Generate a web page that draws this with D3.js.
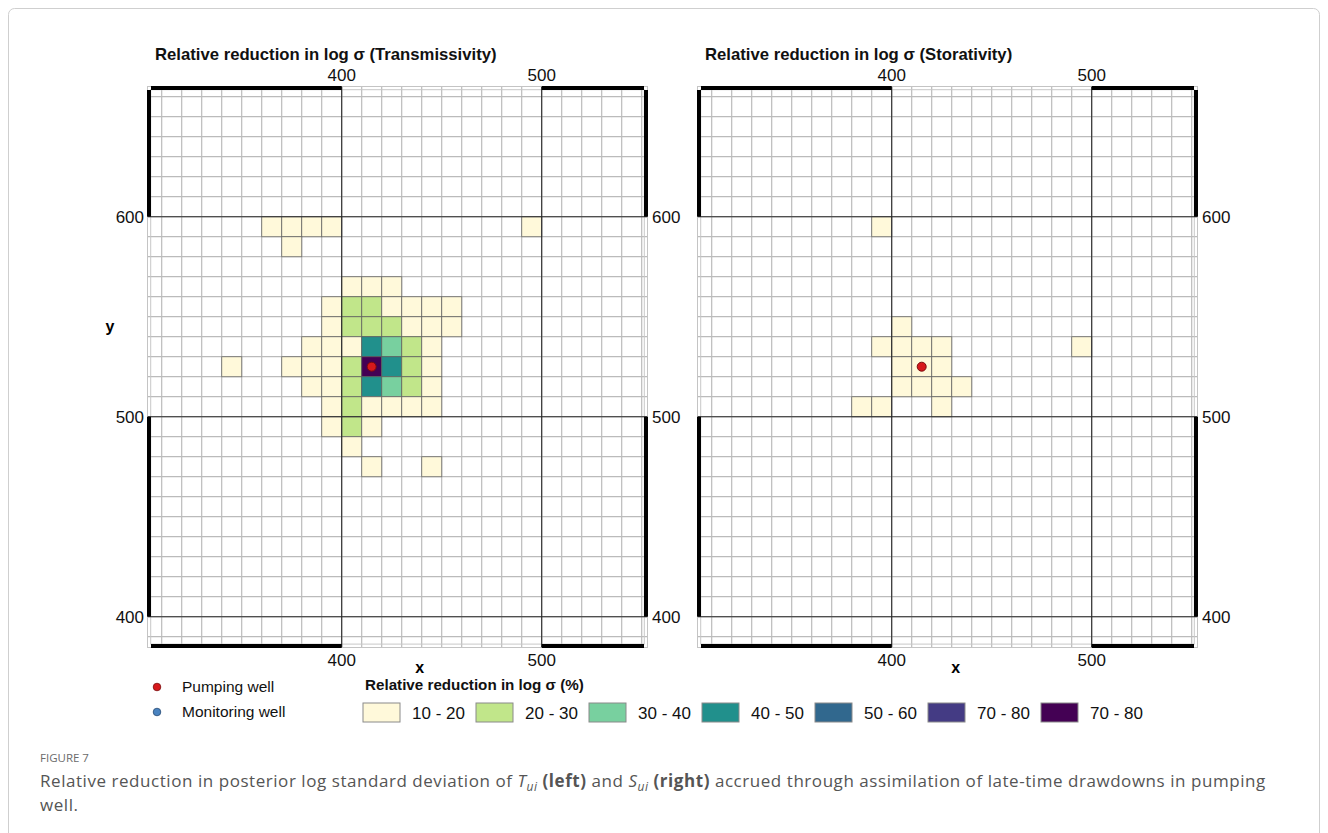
<!DOCTYPE html>
<html>
<head>
<meta charset="utf-8">
<script src="https://cdn.jsdelivr.net/npm/d3@7"></script>
<style>
  html, body { margin: 0; padding: 0; background: #fff; }
  svg { display: block; }
</style>
</head>
<body>
<svg id="fig" width="1328" height="833"></svg>
<script>
// ---- data ----------------------------------------------------------------
// reduction classes (legend order) and their fills
const classLabels = ["10 - 20", "20 - 30", "30 - 40", "40 - 50", "50 - 60", "70 - 80", "70 - 80"];
const classColors = ["#fff9da", "#c1e68a", "#78d09f", "#21908c", "#31688e", "#443b84", "#440154"];

// grid cells: [x of lower-left corner, y of lower-left corner, class index]
const transmissivityCells = [
  [360, 590, 0], [370, 590, 0], [380, 590, 0], [390, 590, 0], [490, 590, 0],
  [370, 580, 0],
  [400, 560, 0], [410, 560, 0], [420, 560, 0],
  [390, 550, 0], [400, 550, 1], [410, 550, 1], [420, 550, 0], [430, 550, 0], [440, 550, 0], [450, 550, 0],
  [390, 540, 0], [400, 540, 1], [410, 540, 1], [420, 540, 1], [430, 540, 0], [440, 540, 0], [450, 540, 0],
  [380, 530, 0], [390, 530, 0], [400, 530, 0], [410, 530, 3], [420, 530, 2], [430, 530, 1], [440, 530, 0],
  [340, 520, 0], [370, 520, 0], [380, 520, 0], [390, 520, 0], [400, 520, 1], [410, 520, 6], [420, 520, 3], [430, 520, 1], [440, 520, 0],
  [380, 510, 0], [390, 510, 0], [400, 510, 1], [410, 510, 3], [420, 510, 2], [430, 510, 1], [440, 510, 0],
  [390, 500, 0], [400, 500, 1], [410, 500, 0], [420, 500, 0], [430, 500, 0], [440, 500, 0],
  [390, 490, 0], [400, 490, 1], [410, 490, 0],
  [400, 480, 0],
  [410, 470, 0], [440, 470, 0]
];

const storativityCells = [
  [390, 590, 0],
  [400, 540, 0],
  [390, 530, 0], [400, 530, 0], [410, 530, 0], [420, 530, 0], [490, 530, 0],
  [400, 520, 0], [410, 520, 0], [420, 520, 0],
  [400, 510, 0], [410, 510, 0], [420, 510, 0], [430, 510, 0],
  [380, 500, 0], [390, 500, 0], [420, 500, 0]
];

const pumpingWells = [[415, 525]];

const xTicks = [400, 500];
const yTicks = [400, 500, 600];
const cellSize = 10;
const xExtent = [302.65, 553.15];
const yExtent = [384.35, 665.35];

const panelTitles = [
  "Relative reduction in log \u03c3 (Transmissivity)",
  "Relative reduction in log \u03c3 (Storativity)"
];
const wellLabels = ["Pumping well", "Monitoring well"];
const wellColors = [["#d7191c", "#7a0c0e"], ["#4a83c0", "#274a73"]];
const legendTitle = "Relative reduction in log \u03c3 (%)";

// ---- drawing ---------------------------------------------------------------
const svg = d3.select("#fig");
const FONT = "'Liberation Sans', Arial, sans-serif";

// outer figure card
svg.append("rect")
  .attr("x", 8.5).attr("y", 8.5).attr("width", 1311).attr("height", 840)
  .attr("rx", 6).attr("fill", "none").attr("stroke", "#cfcfcf").attr("stroke-width", 1);

function drawPanel(left, cells, title, opts) {
  const g = svg.append("g");
  const x = d3.scaleLinear().domain(xExtent).range([left, left + 501]);
  const y = d3.scaleLinear().domain(yExtent).range([648, 86]);
  const [xL, xR] = x.range();
  const yB = 648, yT = 86;

  // title
  g.append("text").attr("x", left + 8).attr("y", 60)
    .attr("font-family", FONT).attr("font-weight", "bold").attr("font-size", 16.7)
    .attr("fill", "#111").text(title);

  // cell grid
  const gx = d3.range(Math.ceil(xExtent[0] / cellSize) * cellSize, xExtent[1], cellSize);
  const gy = d3.range(Math.ceil(yExtent[0] / cellSize) * cellSize, yExtent[1], cellSize);
  const grid = g.append("g").attr("stroke", "#bbbbbb").attr("stroke-width", 1.2);
  grid.selectAll("line.gv").data(gx).join("line").attr("class", "gv")
    .attr("x1", d => x(d)).attr("x2", d => x(d)).attr("y1", yT).attr("y2", yB);
  grid.selectAll("line.gh").data(gy).join("line").attr("class", "gh")
    .attr("y1", d => y(d)).attr("y2", d => y(d)).attr("x1", xL).attr("x2", xR);
  // model grid outline, just inside the frame
  g.append("rect")
    .attr("x", x(304.5)).attr("y", y(663.5))
    .attr("width", x(551.3) - x(304.5)).attr("height", y(386.3) - y(663.5))
    .attr("fill", "none").attr("stroke", "#c8c8c8").attr("stroke-width", 1);

  // coloured cells
  g.append("g").selectAll("rect").data(cells).join("rect")
    .attr("x", d => x(d[0])).attr("y", d => y(d[1] + cellSize))
    .attr("width", d => x(d[0] + cellSize) - x(d[0]))
    .attr("height", d => y(d[1]) - y(d[1] + cellSize))
    .attr("fill", d => classColors[d[2]])
    .attr("stroke", "#5c5c5c").attr("stroke-opacity", 0.75).attr("stroke-width", 1);

  // graticule lines
  const grat = g.append("g").attr("stroke", "#2b2b2b").attr("stroke-width", 1.1);
  grat.selectAll("line.tv").data(xTicks).join("line").attr("class", "tv")
    .attr("x1", d => x(d)).attr("x2", d => x(d)).attr("y1", yT).attr("y2", yB);
  grat.selectAll("line.th").data(yTicks).join("line").attr("class", "th")
    .attr("y1", d => y(d)).attr("y2", d => y(d)).attr("x1", xL).attr("x2", xR);

  // wells
  g.selectAll("circle.well").data(pumpingWells).join("circle").attr("class", "well")
    .attr("cx", d => x(d[0])).attr("cy", d => y(d[1])).attr("r", 4.5)
    .attr("fill", wellColors[0][0]).attr("stroke", wellColors[0][1]).attr("stroke-width", 1);

  // frame: light outline, alternating thick bands between graticule ticks
  g.append("rect").attr("x", xL + 0.5).attr("y", yT + 0.5)
    .attr("width", xR - xL - 1).attr("height", yB - yT - 1)
    .attr("fill", "none").attr("stroke", "#c4c4c4").attr("stroke-width", 1);
  const band = 4;
  const xSegs = [[xL + band, x(xTicks[0])], [x(xTicks[1]), xR - band]];
  const ySegs = [[yT + band, y(yTicks[2])], [y(yTicks[1]), y(yTicks[0])]];
  const bands = g.append("g").attr("fill", "#000");
  xSegs.forEach(([a, b]) => {
    bands.append("rect").attr("x", a).attr("y", yT).attr("width", b - a).attr("height", band);
    bands.append("rect").attr("x", a).attr("y", yB - band).attr("width", b - a).attr("height", band);
  });
  ySegs.forEach(([a, b]) => {
    bands.append("rect").attr("x", xL).attr("y", a).attr("width", band).attr("height", b - a);
    bands.append("rect").attr("x", xR - band).attr("y", a).attr("width", band).attr("height", b - a);
  });

  // tick labels
  const tl = g.append("g").attr("font-family", FONT).attr("font-size", 17).attr("fill", "#111");
  tl.selectAll("text.top").data(xTicks).join("text").attr("class", "top")
    .attr("x", d => x(d)).attr("y", 81).attr("text-anchor", "middle").text(d => d);
  tl.selectAll("text.bottom").data(xTicks).join("text").attr("class", "bottom")
    .attr("x", d => x(d)).attr("y", 666).attr("text-anchor", "middle").text(d => d);
  if (opts.leftLabels) {
    tl.selectAll("text.left").data(yTicks).join("text").attr("class", "left")
      .attr("x", xL - 3).attr("y", d => y(d)).attr("dy", "0.35em")
      .attr("text-anchor", "end").text(d => d);
  }
  tl.selectAll("text.right").data(yTicks).join("text").attr("class", "right")
    .attr("x", xR + 4).attr("y", d => y(d)).attr("dy", "0.35em")
    .attr("text-anchor", "start").text(d => d);

  // axis names
  g.append("text").attr("x", x(opts.xNameAt)).attr("y", 673).attr("text-anchor", "middle")
    .attr("font-family", FONT).attr("font-weight", "bold").attr("font-size", 16).text("x");
  if (opts.yName) {
    g.append("text").attr("x", 110).attr("y", y(545)).attr("dy", "0.35em").attr("text-anchor", "middle")
      .attr("font-family", FONT).attr("font-weight", "bold").attr("font-size", 16).text("y");
  }
}

drawPanel(147, transmissivityCells, panelTitles[0], { leftLabels: true, yName: true, xNameAt: 439 });
drawPanel(697, storativityCells, panelTitles[1], { leftLabels: false, yName: false, xNameAt: 432 });

// ---- legends ---------------------------------------------------------------
const wl = svg.append("g").attr("font-family", FONT).attr("font-size", 15.5).attr("fill", "#111");
wellLabels.forEach((lab, i) => {
  const cy = 687 + i * 25;
  wl.append("circle").attr("cx", 157).attr("cy", cy).attr("r", 3.8)
    .attr("fill", wellColors[i][0]).attr("stroke", wellColors[i][1]).attr("stroke-width", 0.8);
  wl.append("text").attr("x", 182).attr("y", cy).attr("dy", "0.35em").text(lab);
});

svg.append("text").attr("x", 365).attr("y", 690)
  .attr("font-family", FONT).attr("font-weight", "bold").attr("font-size", 15.2)
  .attr("fill", "#111").text(legendTitle);

const lx = d3.scalePoint().domain(d3.range(classLabels.length)).range([363, 1041]);
const lg = svg.append("g").attr("font-family", FONT).attr("font-size", 17).attr("fill", "#111");
classLabels.forEach((lab, i) => {
  lg.append("rect").attr("x", lx(i)).attr("y", 703).attr("width", 37).attr("height", 19)
    .attr("fill", classColors[i]).attr("stroke", "#8a8a8a").attr("stroke-width", 1);
  lg.append("text").attr("x", lx(i) + 49).attr("y", 713).attr("dy", "0.35em").text(lab);
});

// ---- caption ---------------------------------------------------------------
const CAP = "'Open Sans', 'Noto Sans', sans-serif";
svg.append("text").attr("x", 40).attr("y", 762)
  .attr("font-family", CAP).attr("font-size", 11.5).attr("fill", "#6b6b6b")
  .text("FIGURE 7");

const cap = svg.append("text").attr("x", 40).attr("y", 787)
  .attr("font-family", CAP).attr("font-size", 17).attr("fill", "#555")
  .attr("letter-spacing", 0.55);
cap.append("tspan").text("Relative reduction in posterior log standard deviation of ");
cap.append("tspan").attr("font-style", "italic").text("T");
cap.append("tspan").attr("font-style", "italic").attr("font-size", 12).attr("dy", 4).text("ui");
cap.append("tspan").attr("dy", -4).text(" ");
cap.append("tspan").attr("font-weight", "bold").text("(left)");
cap.append("tspan").text(" and ");
cap.append("tspan").attr("font-style", "italic").text("S");
cap.append("tspan").attr("font-style", "italic").attr("font-size", 12).attr("dy", 4).text("ui");
cap.append("tspan").attr("dy", -4).text(" ");
cap.append("tspan").attr("font-weight", "bold").text("(right)");
cap.append("tspan").text(" accrued through assimilation of late-time drawdowns in pumping");

svg.append("text").attr("x", 40).attr("y", 811)
  .attr("font-family", CAP).attr("font-size", 17).attr("fill", "#555")
  .attr("letter-spacing", 0.55).text("well.");
</script>
</body>
</html>
